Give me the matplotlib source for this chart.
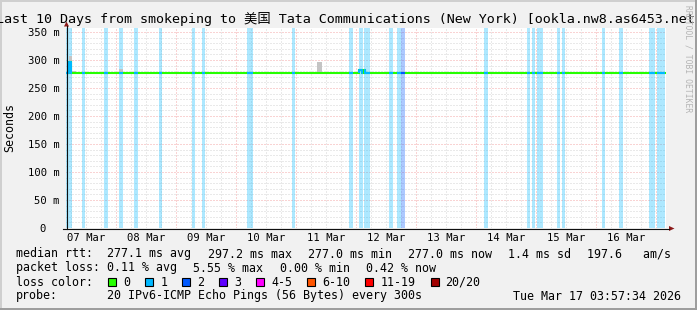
import matplotlib
matplotlib.use("Agg")
import matplotlib.pyplot as plt
import matplotlib.dates as mdates
from matplotlib.patches import Rectangle, Polygon
from matplotlib.lines import Line2D
import pandas as pd

# ---------------- data ----------------
window_start = "2026-03-07 03:57:34"
window_end = "2026-03-17 03:57:34"

# median RTT (ms), piecewise constant between breakpoints
median_times = ["2026-03-07 03:57", "2026-03-07 05:10", "2026-03-07 05:57",
                "2026-03-12 01:20", "2026-03-12 02:10", "2026-03-12 03:00",
                "2026-03-12 03:45", "2026-03-17 03:33"]
median_ms = [277.0, 297.2, 277.0, 281.5, 277.0, 281.5, 277.0, 277.0]

# packet-loss periods (number of lost pings out of 20)
loss_start = ["2026-03-07 03:57", "2026-03-07 10:21", "2026-03-07 19:09", "2026-03-08 01:09",
              "2026-03-08 07:09", "2026-03-08 17:09", "2026-03-09 06:21", "2026-03-09 10:21",
              "2026-03-10 04:21", "2026-03-10 22:21", "2026-03-11 21:09", "2026-03-12 01:09",
              "2026-03-12 03:09", "2026-03-12 13:09", "2026-03-12 16:21", "2026-03-12 17:57",
              "2026-03-14 03:09", "2026-03-14 20:21", "2026-03-14 22:21", "2026-03-15 00:21",
              "2026-03-15 08:21", "2026-03-15 10:21", "2026-03-16 02:21", "2026-03-16 09:09",
              "2026-03-16 21:09", "2026-03-17 00:21"]
loss_end = ["2026-03-07 06:21", "2026-03-07 11:33", "2026-03-07 20:45", "2026-03-08 02:45",
            "2026-03-08 08:45", "2026-03-08 18:21", "2026-03-09 07:33", "2026-03-09 11:33",
            "2026-03-10 06:45", "2026-03-10 23:33", "2026-03-11 22:45", "2026-03-12 02:45",
            "2026-03-12 05:33", "2026-03-12 14:45", "2026-03-12 17:57", "2026-03-12 19:33",
            "2026-03-14 04:45", "2026-03-14 21:33", "2026-03-14 23:33", "2026-03-15 02:45",
            "2026-03-15 09:33", "2026-03-15 11:33", "2026-03-16 03:33", "2026-03-16 10:45",
            "2026-03-16 23:33", "2026-03-17 03:33"]
loss_count = [1, 1, 1, 1, 1, 1, 1, 1, 1, 1, 1, 1, 1, 1, 1, 2, 1, 1, 1, 1, 1, 1, 1, 1, 1, 1]

# smoke (spread of the pings)
smoke_start = ["2026-03-07 05:09", "2026-03-07 06:21", "2026-03-08 01:09", "2026-03-11 08:21"]
smoke_end = ["2026-03-07 06:21", "2026-03-07 07:57", "2026-03-08 02:45", "2026-03-11 10:21"]
smoke_low = [277.0, 277.0, 277.0, 277.0]
smoke_high = [308.0, 281.0, 284.0, 297.0]

y_ticks = [0, 50, 100, 150, 200, 250, 300, 350]
y_tick_labels = ["0  ", "50 m", "100 m", "150 m", "200 m", "250 m", "300 m", "350 m"]
day_labels = ["07 Mar", "08 Mar", "09 Mar", "10 Mar", "11 Mar",
              "12 Mar", "13 Mar", "14 Mar", "15 Mar", "16 Mar"]

title = "Last 10 Days from smokeping to 美国 Tata Communications (New York) [ookla.nw8.as6453.net]"
y_label = "Seconds"
watermark = "RRDTOOL / TOBI OETIKER"

row_median = ["median rtt:  277.1 ms avg", "297.2 ms max", "277.0 ms min",
              "277.0 ms now", "1.4 ms sd", "197.6   am/s"]
row_loss = ["packet loss: 0.11 % avg", "5.55 % max", "0.00 % min", "0.42 % now"]
loss_color_title = "loss color:"
loss_legend_labels = ["0", "1", "2", "3", "4-5", "6-10", "11-19", "20/20"]
loss_legend_colors = ["#26ff00", "#00b8ff", "#0059ff", "#5e00ff",
                      "#ff00ff", "#ff5500", "#ff0000", "#a10000"]
probe_title = "probe:"
probe_text = "20 IPv6-ICMP Echo Pings (56 Bytes) every 300s"
timestamp = "Tue Mar 17 03:57:34 2026"

# ---------------- layout ----------------
W, H = 697, 310
MONO = "DejaVu Sans Mono"
LEG_FS = 8.4
AX_FS = 7.6
CHAR = 7.02  # legend char advance in px


def fx(x):
    return x / W


def fy(y):
    return 1 - y / H


fig = plt.figure(figsize=(W / 100, H / 100), dpi=100, facecolor="#f1f1f1")

ax = fig.add_axes([fx(66), fy(228), 600 / W, 200 / H])
ax.set_facecolor("white")
for s in ax.spines.values():
    s.set_visible(False)

t0 = pd.Timestamp(window_start)
t1 = pd.Timestamp(window_end)
ax.set_xlim(t0, t1)
ax.set_ylim(0, 200 / 0.56)

# grid
GRID_MINOR = "#d4d4d4"
GRID_MAJOR = "#f5a8a8"
DOT = (0, (1, 2))
for v in range(10, 360, 10):
    if v % 50:
        ax.axhline(v, color=GRID_MINOR, lw=0.72, ls=DOT, zorder=1)
for v in y_ticks[1:]:
    ax.axhline(v, color=GRID_MAJOR, lw=0.72, ls=DOT, zorder=1.5)
for t in pd.date_range(t0.floor("6h"), t1, freq="6h"):
    if t.hour != 0:
        ax.axvline(t, color=GRID_MINOR, lw=0.72, ls=DOT, zorder=1)
for t in pd.date_range(t0.ceil("D"), t1, freq="D"):
    ax.axvline(t, color=GRID_MAJOR, lw=0.72, ls=DOT, zorder=1.5)

# loss bands
band_alpha = 0.32
for s, e, c in zip(loss_start, loss_end, loss_count):
    col = loss_legend_colors[min(c, 3)]
    ax.axvspan(pd.Timestamp(s), pd.Timestamp(e), color=col, alpha=band_alpha, lw=0, zorder=2)

# smoke
for s, e, lo, hi in zip(smoke_start, smoke_end, smoke_low, smoke_high):
    ax.fill_between([pd.Timestamp(s), pd.Timestamp(e)], [lo, lo], [hi, hi],
                    color="#c4c4c4", lw=0, zorder=3)

# median line
mt = [pd.Timestamp(t) for t in median_times]
ax.step(mt, median_ms, where="post", color="#26ff00", lw=1.5, zorder=4,
        solid_joinstyle="miter")


def median_segment(a, b):
    xs, ys = [], []
    cur = median_ms[0]
    for t, v in zip(mt, median_ms):
        if t <= a:
            cur = v
    xs.append(a)
    ys.append(cur)
    for t, v in zip(mt, median_ms):
        if a < t < b:
            xs += [t, t]
            ys += [cur, v]
            cur = v
    xs.append(b)
    ys.append(cur)
    return xs, ys


for s, e, c in zip(loss_start, loss_end, loss_count):
    xs, ys = median_segment(pd.Timestamp(s), pd.Timestamp(e))
    ax.plot(xs, ys, color=loss_legend_colors[min(c, 3)], lw=1.5, zorder=5,
            solid_capstyle="butt")

# ticks
ax.set_yticks(y_ticks, labels=y_tick_labels)
noons = [d + pd.Timedelta(hours=12) for d in pd.date_range(t0.floor("D"), t1, freq="D")]
noons = [n for n in noons if t0 <= n <= t1]
ax.set_xticks(noons, labels=day_labels[:len(noons)])
ax.tick_params(axis="y", length=0, pad=4.7, labelsize=AX_FS)
ax.tick_params(axis="x", length=0, pad=3.4, labelsize=AX_FS)
for lab in ax.get_xticklabels() + ax.get_yticklabels():
    lab.set_fontfamily(MONO)

# axis lines and arrows (figure pixel layout)
fig.add_artist(Line2D([fx(66.5), fx(66.5)], [fy(228.5), fy(26)], color="#101010", lw=0.8))
fig.add_artist(Line2D([fx(63), fx(669)], [fy(228.5), fy(228.5)], color="#101010", lw=0.8))
fig.add_artist(Polygon([[fx(64), fy(26.5)], [fx(69), fy(26.5)], [fx(66.5), fy(21.5)]],
                       closed=True, color="#8b1a1a", lw=0, transform=fig.transFigure))
fig.add_artist(Polygon([[fx(669), fy(226)], [fx(669), fy(231)], [fx(674.5), fy(228.5)]],
                       closed=True, color="#8b1a1a", lw=0, transform=fig.transFigure))

# frame shading
fig.add_artist(Rectangle((0, fy(2)), 1, 2 / H, transform=fig.transFigure, color="#cfcfcf", lw=0))
fig.add_artist(Rectangle((0, 0), 2 / W, 1, transform=fig.transFigure, color="#cfcfcf", lw=0))
fig.add_artist(Rectangle((0, 0), 1, 2 / H, transform=fig.transFigure, color="#9e9e9e", lw=0))
fig.add_artist(Rectangle((fx(W - 2), 0), 2 / W, 1, transform=fig.transFigure, color="#9e9e9e", lw=0))

# title, labels, watermark
fig.text(fx(349.5), fy(19.5), title, ha="center", va="center", fontsize=9.6,
         family=[MONO, "Noto Sans CJK SC"])
fig.text(fx(10), fy(127), y_label, rotation=90, ha="center", va="center",
         fontsize=LEG_FS, family=MONO)
fig.text(fx(688), fy(5), watermark, rotation=270, ha="center", va="top",
         fontsize=5.8, family=MONO, color="#b4b4b4")

# legend rows
x = 16
for item in row_median:
    fig.text(fx(x), fy(254), item, ha="left", va="center", fontsize=LEG_FS, family=MONO)
    x += len(item) * CHAR + 16
x = 16
for item in row_loss:
    fig.text(fx(x), fy(268), item, ha="left", va="center", fontsize=LEG_FS, family=MONO)
    x += len(item) * CHAR + 16

fig.text(fx(16), fy(282), loss_color_title, ha="left", va="center", fontsize=LEG_FS, family=MONO)
bx = 16 + len(loss_color_title) * CHAR + 15
for lab, col in zip(loss_legend_labels, loss_legend_colors):
    fig.add_artist(Rectangle((fx(bx), fy(286)), 8 / W, 8 / H, transform=fig.transFigure,
                             facecolor=col, edgecolor="black", lw=0.8))
    lx = bx + 15
    fig.text(fx(lx), fy(282), lab, ha="left", va="center", fontsize=LEG_FS, family=MONO)
    bx = lx + len(lab) * CHAR + 15

fig.text(fx(16), fy(296), probe_title, ha="left", va="center", fontsize=LEG_FS, family=MONO)
fig.text(fx(107), fy(296), probe_text, ha="left", va="center", fontsize=LEG_FS, family=MONO)
fig.text(fx(681), fy(296), timestamp, ha="right", va="center", fontsize=LEG_FS, family=MONO)

fig.savefig("out.png", dpi=100, facecolor=fig.get_facecolor())
